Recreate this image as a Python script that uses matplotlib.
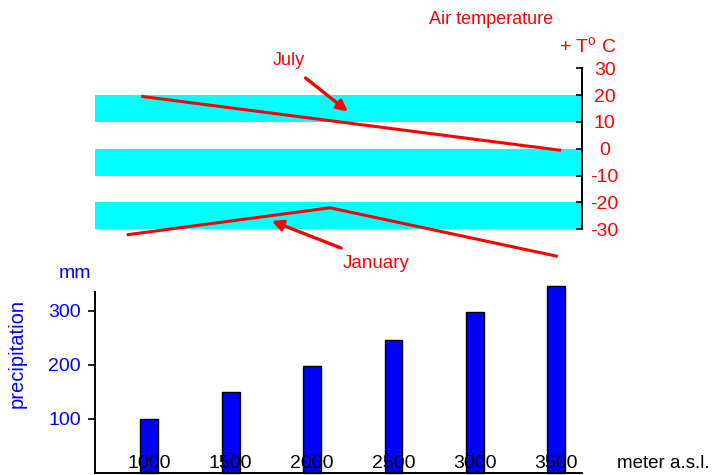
import matplotlib
matplotlib.use("Agg")
import matplotlib.pyplot as plt

plt.rcParams['font.family'] = ['Liberation Sans', 'DejaVu Sans']
plt.rcParams['mathtext.fontset'] = 'custom'
plt.rcParams['mathtext.rm'] = 'Liberation Sans'
plt.rcParams['axes.unicode_minus'] = False

# ---- data ----
altitudes = [1000, 1500, 2000, 2500, 3000, 3500]
alt_labels = ['1000', '1500', '2000', '2500', '3000', '3500']
precip = [100, 150, 198, 245, 297, 346]

july_alt = [960, 2110, 3520]
july_temp = [19.5, 10.5, -0.5]
jan_alt = [870, 2110, 3500]
jan_temp = [-32, -22, -40]

band_top = [20, 0, -20]
band_bottom = [10, -10, -30]

temp_ticks = [30, 20, 10, 0, -10, -20, -30]
precip_ticks = [100, 200, 300]

W, H = 717, 475
fig = plt.figure(figsize=(W / 100, H / 100), dpi=100)
XLIM = (666.5, 3656)

# ---- precipitation axes ----
axb = fig.add_axes([95 / W, 2.5 / H, 486.7 / W, 194.4 / H])
axb.set_xlim(*XLIM)
axb.set_ylim(0, 360)
axb.bar(altitudes, precip, width=110, color='#0000FF', edgecolor='black',
        linewidth=1.0, zorder=2, clip_on=False)
for a, lab in zip(altitudes, alt_labels):
    axb.text(a, 16, lab, ha='center', va='center', fontsize=14,
             color='black', zorder=3)
axb.spines['top'].set_visible(False)
axb.spines['right'].set_visible(False)
axb.spines['left'].set_bounds(0, 335)
axb.spines['left'].set_linewidth(1.4)
axb.spines['bottom'].set_linewidth(1.4)
axb.set_xticks([])
axb.set_yticks(precip_ticks)
axb.tick_params(axis='y', direction='out', length=5, width=1.2,
                labelcolor='#0000FF', labelsize=14, pad=5)
axb.patch.set_alpha(0)

fig.text(17 / W, 1 - 353 / H, 'precipitation', rotation=90, color='#0000FF',
         fontsize=14.5, ha='center', va='center')
fig.text(75 / W, 1 - 273 / H, 'mm', color='#0000FF', fontsize=14,
         ha='center', va='center')
fig.text(617 / W, 1 - 463 / H, 'meter a.s.l.', color='black', fontsize=13.5,
         ha='left', va='center')

# ---- temperature axes ----
axt = fig.add_axes([95 / W, 205.5 / H, 486.7 / W, 206.5 / H])
axt.set_xlim(*XLIM)
axt.set_ylim(-45, 32)
axt.patch.set_alpha(0)
for t, b in zip(band_top, band_bottom):
    axt.axhspan(b, t, color='#00FFFF', zorder=1, lw=0)
axt.plot(july_alt, july_temp, color='#FF0000', lw=2.2, zorder=3, clip_on=False)
axt.plot(jan_alt, jan_temp, color='#FF0000', lw=2.2, zorder=3, clip_on=False)
for s in ['top', 'left', 'bottom']:
    axt.spines[s].set_visible(False)
axt.spines['right'].set_bounds(-30, 30)
axt.spines['right'].set_linewidth(1.4)
axt.set_xticks([])
axt.yaxis.tick_right()
axt.set_yticks(temp_ticks)
axt.tick_params(axis='y', direction='in', length=4, width=1.2,
                labelcolor='#FF0000', labelsize=14, pad=16.5)
for lab in axt.get_yticklabels():
    lab.set_horizontalalignment('center')

arrow = dict(arrowstyle='-|>', color='#FF0000', lw=2.4, mutation_scale=16,
             shrinkA=0, shrinkB=0)
axt.annotate('', xy=(2220, 13.9), xytext=(1960, 26.4), arrowprops=arrow,
             annotation_clip=False)
axt.annotate('', xy=(1752, -26.9), xytext=(2178, -37.0), arrowprops=arrow,
             annotation_clip=False)
axt.text(1858, 33.1, 'July', color='#FF0000', fontsize=13, ha='center',
         va='center', clip_on=False)
axt.text(2393, -42.9, 'January', color='#FF0000', fontsize=13.5, ha='center',
         va='center', clip_on=False)

fig.text(491.5 / W, 1 - 19 / H, 'Air temperature', color='#FF0000',
         fontsize=13, ha='center', va='center')
fig.text(617 / W, 1 - 47 / H, r'+ T$^{\mathrm{o}}$ C', color='#FF0000',
         fontsize=14, ha='right', va='center')

fig.savefig('out.png', dpi=100)
